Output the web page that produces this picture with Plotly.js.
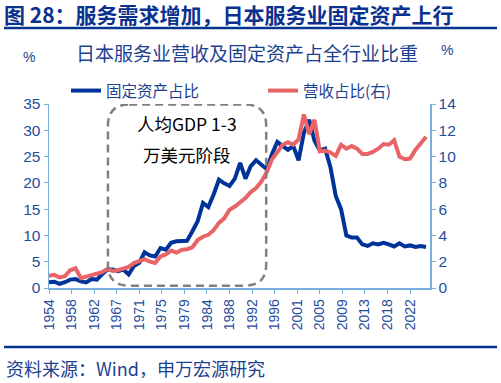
<!DOCTYPE html>
<html>
<head>
<meta charset="utf-8">
<script src="https://cdn.plot.ly/plotly-3.0.1.min.js"></script>
<style>html,body{margin:0;padding:0;background:#fff;}#chart{width:501px;height:383px;}</style>
</head>
<body>
<div id="chart"></div>
<script>
// ---- data ----
var years = [1954,1955,1956,1957,1958,1959,1960,1961,1962,1963,1964,1965,1966,1967,1968,1969,
  1970,1971,1972,1973,1974,1975,1976,1977,1978,1979,1980,1981,1982,1983,1984,1985,1986,1987,1988,1989,
  1990,1991,1992,1993,1994,1995,1996,1997,1998,1999,2000,2001,2002,2003,2004,2005,2006,2007,2008,2009,
  2010,2011,2012,2013,2014,2015,2016,2017,2018,2019,2020,2021,2022,2023,2024,2025];
var fixedAssetShare = [1.1,1.2,0.8,1.1,1.6,1.7,1.25,1.05,1.7,1.6,2.6,3.5,3.5,3.2,3.5,2.6,
  4.2,4.8,6.8,6.2,6.0,7.6,7.3,8.6,8.9,9.0,9.0,10.8,12.7,16.2,15.4,17.8,20.6,19.9,19.4,20.8,
  23.8,20.8,23.2,24.3,23.4,22.6,25.5,27.8,27.0,26.3,27.0,24.3,29.5,32.0,28.0,26.2,26.5,23.0,17.5,15.0,
  10.0,9.6,9.6,8.3,8.0,8.5,8.3,8.6,8.3,7.9,8.5,7.9,8.1,7.8,8.0,7.8];
var revenueShare = [0.94,1.0,0.8,0.9,1.35,1.5,0.75,0.85,1.0,1.1,1.2,1.45,1.3,1.35,1.5,1.6,
  1.9,2.05,2.2,2.0,1.9,2.4,2.55,2.85,2.7,2.9,2.95,3.1,3.65,3.9,4.05,4.4,4.95,5.3,5.95,6.2,
  6.5,6.85,7.3,7.6,8.1,8.8,9.8,10.4,10.9,11.1,10.9,11.3,13.2,11.7,12.8,10.4,10.45,10.3,10.05,10.9,
  10.6,10.8,10.6,10.2,10.2,10.35,10.6,10.95,10.9,11.25,10.0,9.8,9.85,10.5,11.0,11.5];
var tickLabels = ['1954','1958','1962','1967','1971','1975','1979','1984','1988','1992','1996','2001','2005','2009','2013','2018','2022'];
var seriesNames = ['固定资产占比','营收占比(右)'];

// ---- layout helpers ----
var W = 501, H = 383, L = 49, R = 71, T = 104, B = 95;
var pw = W - L - R, ph = H - T - B;
function px(x){ return (x - L) / pw; }
function py(y){ return (H - B - y) / ph; }
var tickVals = tickLabels.map(function(_, i){ return 1954 + 4.25 * i; });

var navy = '#0b318f', tickBlue = '#1f4d9e', axisBlue = '#7aaede';
var cjk = '"Noto Sans CJK SC", "Microsoft YaHei", sans-serif';
var num = '"Liberation Sans", Arial, sans-serif';

var traces = [
  {x: years, y: fixedAssetShare, name: seriesNames[0], type: 'scatter', mode: 'lines',
   line: {color: '#00339a', width: 4}, yaxis: 'y'},
  {x: years, y: revenueShare, name: seriesNames[1], type: 'scatter', mode: 'lines',
   line: {color: '#e86466', width: 4}, yaxis: 'y2'}
];

// rounded dashed box (data coords)
var bx0 = 1965.1, bx1 = 1994.9, by0 = 0.45, by1 = 34.9, rx = 4.0, ry = 4.0;
var boxPath = 'M ' + (bx0+rx) + ' ' + by1 + ' L ' + (bx1-rx) + ' ' + by1 +
  ' Q ' + bx1 + ' ' + by1 + ' ' + bx1 + ' ' + (by1-ry) +
  ' L ' + bx1 + ' ' + (by0+ry) + ' Q ' + bx1 + ' ' + by0 + ' ' + (bx1-rx) + ' ' + by0 +
  ' L ' + (bx0+rx) + ' ' + by0 + ' Q ' + bx0 + ' ' + by0 + ' ' + bx0 + ' ' + (by0+ry) +
  ' L ' + bx0 + ' ' + (by1-ry) + ' Q ' + bx0 + ' ' + by1 + ' ' + (bx0+rx) + ' ' + by1 + ' Z';

var layout = {
  width: W, height: H,
  margin: {l: L, r: R, t: T, b: B, pad: 0},
  paper_bgcolor: '#fff', plot_bgcolor: '#fff',
  showlegend: true,
  title: {text: '<b>图 28：服务需求增加，日本服务业固定资产上行</b>', x: 4/W, xanchor: 'left',
          y: 1 - 16/H, yanchor: 'middle', font: {family: cjk, size: 21, color: navy}},
  legend: {orientation: 'h', x: px(48), y: py(91), xanchor: 'left', yanchor: 'middle',
           indentation: 18, entrywidth: 134, entrywidthmode: 'pixels', itemwidth: 30,
           font: {family: cjk, size: 15.5, color: '#1d3f8f'}, bgcolor: 'rgba(0,0,0,0)'},
  xaxis: {type: 'linear', range: [1954, 2025.75], tickmode: 'array', tickvals: tickVals, ticktext: tickLabels,
          tickangle: -90, ticks: 'outside', ticklen: 4, tickcolor: axisBlue, tickwidth: 1,
          showline: true, linecolor: axisBlue, linewidth: 1.5, showgrid: false, zeroline: false,
          automargin: false, tickfont: {family: num, size: 14, color: tickBlue}},
  yaxis: {range: [0, 35], dtick: 5, ticks: 'outside', ticklen: 4, tickcolor: axisBlue,
          showline: true, linecolor: axisBlue, linewidth: 1.5, showgrid: false, zeroline: false,
          automargin: false, tickfont: {family: num, size: 15.5, color: tickBlue}},
  yaxis2: {range: [0, 14], dtick: 2, overlaying: 'y', side: 'right', ticks: 'outside', ticklen: 4,
          tickcolor: axisBlue, showline: true, linecolor: axisBlue, linewidth: 1.5, showgrid: false,
          automargin: false, zeroline: false, tickfont: {family: num, size: 15.5, color: tickBlue}},
  shapes: [
    {type: 'line', xref: 'paper', yref: 'paper', x0: px(4), x1: px(497), y0: py(28), y1: py(28),
     line: {color: '#05358f', width: 2.5}},
    {type: 'line', xref: 'paper', yref: 'paper', x0: px(4), x1: px(497), y0: py(347), y1: py(347),
     line: {color: '#05358f', width: 2.5}},
    {type: 'path', xref: 'x', yref: 'y', path: boxPath, layer: 'above',
     line: {color: '#808080', width: 2.5, dash: '8px,5px'}}
  ],
  annotations: [
    {text: '日本服务业营收及固定资产占全行业比重', xref: 'paper', yref: 'paper', x: px(247), y: py(52),
     showarrow: false, xanchor: 'center', yanchor: 'middle', font: {family: cjk, size: 19, color: '#1d3f8f'}},
    {text: '%', xref: 'paper', yref: 'paper', x: px(29), y: py(57), showarrow: false,
     xanchor: 'center', yanchor: 'middle', font: {family: num, size: 14, color: '#1d3f8f'}},
    {text: '%', xref: 'paper', yref: 'paper', x: px(447), y: py(50), showarrow: false,
     xanchor: 'center', yanchor: 'middle', font: {family: num, size: 14, color: '#1d3f8f'}},
    {text: '人均GDP 1-3', xref: 'x', yref: 'y', x: 1980.0, y: 31.2, showarrow: false,
     xanchor: 'center', yanchor: 'middle', font: {family: cjk, size: 17.5, color: '#000'}},
    {text: '万美元阶段', xref: 'x', yref: 'y', x: 1980.0, y: 25.3, showarrow: false,
     xanchor: 'center', yanchor: 'middle', font: {family: cjk, size: 17.5, color: '#000'}},
    {text: '资料来源：Wind，申万宏源研究', xref: 'paper', yref: 'paper', x: px(4), y: py(368),
     showarrow: false, xanchor: 'left', yanchor: 'middle', font: {family: cjk, size: 18, color: '#1d3f8f'}}
  ]
};

Plotly.newPlot('chart', traces, layout, {displayModeBar: false, staticPlot: true});
</script>
</body>
</html>
